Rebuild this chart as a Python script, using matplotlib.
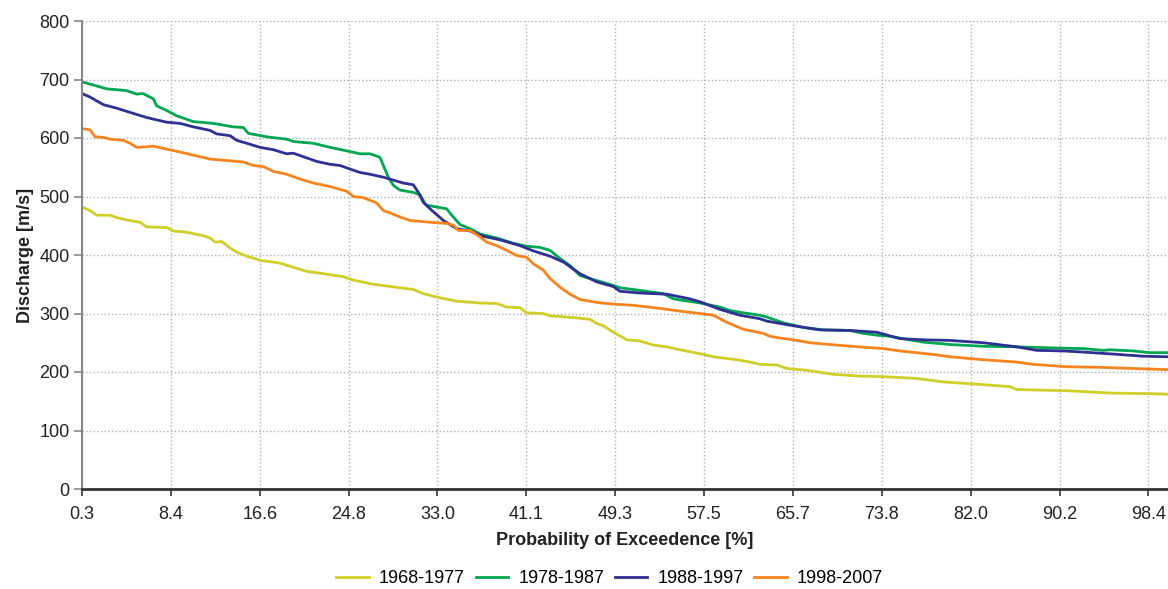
import numpy as np
import matplotlib
matplotlib.use("Agg")
import matplotlib.pyplot as plt

plt.rcParams['font.family'] = ['Liberation Sans', 'DejaVu Sans']

# flow duration curves
x_6877 = [0.3, 1.04, 1.65, 2.88, 3.49, 4.41, 5.64, 6.25, 8.09, 8.70, 9.93, 11.46, 12.08, 12.54,
          13.15, 13.92, 14.53, 15.45, 16.68, 18.52, 19.74, 20.97, 22.19, 24.34, 25.26, 27.10,
          29.55, 30.78, 31.70, 32.93, 34.77, 36.91, 38.45, 39.37, 40.59, 41.21, 42.74, 43.35,
          45.50, 47.03, 47.65, 48.26, 49.18, 50.41, 51.63, 52.86, 54.09, 55.31, 57.46, 58.69,
          60.53, 61.75, 62.67, 64.21, 65.13, 66.97, 69.42, 71.87, 74.02, 77.09, 79.54, 81.99,
          85.67, 86.29, 90.89, 94.87, 98.55, 100.21]
q_6877 = [482, 476, 468, 468, 464, 460, 456, 448, 447, 441, 439, 433, 429, 422,
          423, 412, 405, 398, 391, 386, 379, 372, 369, 363, 357, 350,
          344, 341, 334, 328, 321, 318, 317, 311, 310, 301, 300, 296,
          293, 290, 283, 279, 268, 255, 253, 246, 243, 238, 230, 225,
          221, 217, 213, 212, 206, 203, 196, 193, 192, 189, 183, 180,
          175, 170, 168, 164, 163, 162]

x_7887 = [0.3, 1.65, 2.57, 4.41, 5.33, 5.91, 6.86, 7.17, 8.09, 9.01, 10.54, 12.38, 14.22, 15.14,
          15.60, 17.29, 19.13, 19.74, 21.58, 23.12, 24.65, 25.88, 26.80, 27.71, 28.02, 28.48,
          28.94, 29.55, 30.78, 31.40, 31.85, 32.01, 33.85, 34.31, 35.07, 35.99, 36.91, 38.45,
          39.98, 41.21, 42.43, 43.35, 44.27, 45.19, 46.11, 47.34, 49.18, 49.79, 51.02, 53.78,
          54.70, 57.15, 58.99, 59.91, 60.83, 62.67, 63.29, 64.82, 66.66, 68.50, 70.95, 72.18,
          73.41, 74.63, 75.86, 77.70, 80.15, 83.22, 86.29, 89.97, 92.42, 94.26, 94.87, 97.02,
          98.55, 100.21]
q_7887 = [696, 689, 684, 681, 675, 676, 667, 655, 647, 638, 628, 625, 619, 618,
          608, 602, 598, 594, 591, 584, 578, 573, 573, 567, 553, 533,
          519, 511, 507, 503, 488, 485, 479, 468, 452, 445, 436, 429,
          420, 415, 413, 408, 394, 382, 365, 358, 348, 344, 341, 334,
          325, 318, 311, 305, 302, 297, 294, 284, 276, 272, 271, 266,
          263, 261, 257, 251, 247, 244, 243, 241, 240, 237, 238, 236,
          233, 233]

x_8897 = [0.3, 1.04, 2.26, 3.49, 5.02, 6.25, 7.17, 8.09, 9.32, 10.54, 12.08, 12.69, 13.92, 14.53,
          15.45, 16.68, 17.90, 19.13, 19.74, 20.97, 21.89, 23.12, 24.04, 24.95, 25.88, 26.80,
          28.02, 28.94, 29.86, 30.78, 31.24, 31.70, 32.31, 33.54, 34.77, 35.99, 37.22, 38.75,
          40.59, 41.82, 43.35, 44.58, 46.11, 47.65, 49.18, 49.79, 51.63, 54.09, 56.23, 57.15,
          58.99, 60.83, 62.67, 63.29, 65.43, 68.19, 70.95, 73.41, 75.55, 77.70, 80.15, 83.22,
          86.29, 88.13, 90.58, 92.42, 94.87, 97.94, 100.21]
q_8897 = [676, 670, 657, 651, 642, 635, 631, 627, 625, 619, 613, 607, 604, 596,
          591, 584, 580, 573, 574, 566, 560, 555, 553, 547, 541, 538,
          533, 528, 523, 520, 507, 490, 479, 459, 445, 441, 432, 426,
          416, 407, 398, 388, 368, 354, 346, 338, 335, 333, 325, 320,
          307, 297, 291, 287, 280, 272, 271, 268, 257, 255, 254, 250,
          243, 237, 236, 234, 231, 227, 226]

x_9807 = [0.3, 1.04, 1.50, 2.26, 2.88, 4.10, 4.72, 5.33, 6.25, 6.86, 8.09, 9.32, 10.24, 11.16,
          12.08, 13.30, 15.14, 16.06, 16.98, 17.90, 19.13, 20.36, 21.58, 23.12, 24.65, 25.26,
          26.18, 27.41, 28.02, 28.63, 29.55, 30.47, 32.31, 33.85, 34.46, 34.92, 35.99, 36.91,
          37.53, 38.45, 39.37, 40.29, 41.21, 41.82, 42.74, 43.35, 44.27, 45.19, 46.11, 47.65,
          49.18, 51.02, 53.78, 55.31, 57.15, 58.38, 59.61, 61.14, 62.98, 63.59, 64.51, 65.74,
          67.27, 69.73, 72.49, 74.02, 75.55, 78.62, 80.15, 83.22, 86.29, 87.82, 90.89, 93.95,
          97.02, 100.21]
q_9807 = [616, 614, 602, 601, 598, 596, 591, 584, 585, 586, 581, 576, 572, 568,
          564, 562, 559, 553, 551, 543, 538, 530, 523, 517, 509, 500,
          498, 489, 476, 472, 465, 459, 456, 454, 451, 442, 442, 431,
          422, 416, 408, 399, 396, 385, 374, 360, 345, 333, 324, 319,
          316, 314, 308, 304, 300, 297, 285, 273, 266, 261, 258, 255,
          250, 246, 242, 240, 236, 230, 226, 221, 217, 213, 209, 208,
          206, 204]

periods = ['1968-1977', '1978-1987', '1988-1997', '1998-2007']
colors = ['#cfcf2a', '#00a651', '#2e3192', '#f7841f']
tick_labels = ['0.3', '8.4', '16.6', '24.8', '33.0', '41.1', '49.3',
               '57.5', '65.7', '73.8', '82.0', '90.2', '98.4']

fig = plt.figure(figsize=(11.68, 5.89), dpi=100)
ax = fig.add_axes([82/1168, 1-489/589, 1-82/1168, (489-21)/589])

series = [(x_6877, q_6877), (x_7887, q_7887), (x_8897, q_8897), (x_9807, q_9807)]
for (xs, qs), lab, c in zip(series, periods, colors):
    ax.plot(xs, qs, color=c, lw=2.0, label=lab, solid_joinstyle='round')

ax.set_xlim(0.3, 100.2)
ax.set_ylim(0, 800)
ax.set_yticks(np.arange(0, 801, 100))
ax.set_xticks(np.linspace(0.3, 98.4, 13))
ax.set_xticklabels(tick_labels)
ax.tick_params(labelsize=13, colors='#222222')
ax.tick_params(axis='y', length=6, color='#888888', width=1.2, pad=3)
ax.tick_params(axis='x', length=5, color='#333333', width=1.2, pad=7)

ax.grid(True, color='#b0b0b0', linestyle=':', linewidth=1.0)
ax.set_axisbelow(True)
for s in ['top', 'right']:
    ax.spines[s].set_visible(False)
ax.spines['left'].set_color('#888888')
ax.spines['left'].set_linewidth(1.5)
ax.spines['bottom'].set_color('#333333')
ax.spines['bottom'].set_linewidth(2)

ax.set_xlabel('Probability of Exceedence [%]', fontsize=13, fontweight='bold',
              color='#222222', labelpad=7)
ax.set_ylabel('Discharge [m/s]', fontsize=13, fontweight='bold', color='#222222', labelpad=4)

fig.legend(loc='center', bbox_to_anchor=(0.522, 0.017), ncol=4, frameon=False,
           fontsize=13, handlelength=1.8, handletextpad=0.55, columnspacing=0.6)

fig.savefig('out.png', dpi=100)
